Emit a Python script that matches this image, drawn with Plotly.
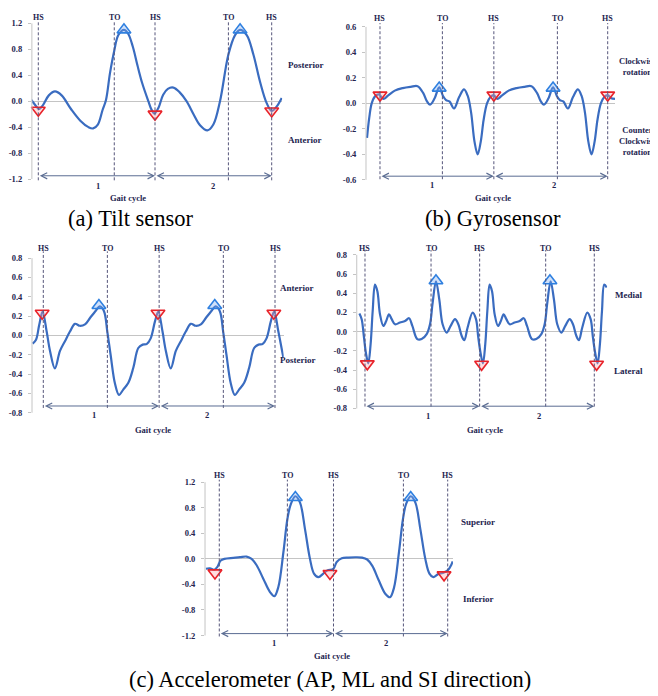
import plotly.graph_objects as go

# The page body adds an 8px margin; the figure is sized to fill the rest of the 658x696 window
OFF = 8
W, H = 658 - OFF, 696 - OFF
SERIF = "Liberation Serif, Times New Roman, serif"
NAVY = "#24244f"
CURVE = "#3a6cc0"
DASH = "#55557a"
GREY = "#c4c4c4"

# ---------------- data (x in % of gait cycle: HS at 0, 100, 200) ----------------
hs_events = [0, 100, 200]

# (a) Tilt sensor
tilt_x = [-6.5, -3, 0.5, 4, 9, 14.3, 20, 28, 36, 43, 47, 51, 55, 58, 61.4, 65, 68.6, 73.4, 77, 81,
          85, 89, 94.3, 97, 99.5, 103, 107, 111, 115.7, 121, 127, 133, 138.6, 144.9, 150, 155.7,
          162.9, 168.6, 172.9, 178.6, 184.3, 190, 195.7, 200, 204.3, 208.6]
tilt_y = [0.03, -0.05, -0.12, -0.06, 0.09, 0.15, 0.09, -0.12, -0.3, -0.4, -0.42, -0.36, -0.14, 0.02, 0.43, 0.77, 1.02, 1.1, 1.04, 0.84,
          0.55, 0.28, 0.0, -0.13, -0.19, -0.1, 0.1, 0.19, 0.21, 0.14, 0.0, -0.2, -0.37, -0.45, -0.36, 0.0,
          0.72, 1.02, 1.1, 1.02, 0.72, 0.3, -0.03, -0.15, -0.08, 0.05]
tilt_hs_x = [0, 100, 200]
tilt_hs_y = [-0.14, -0.2, -0.15]
tilt_pk_x = [73.4, 172.9]
tilt_pk_y = [1.1, 1.1]
tilt_to = [65.1, 162.9]
tilt_ticks = [-1.2, -0.8, -0.4, 0.0, 0.4, 0.8, 1.2]
tilt_ticktext = ["-1.2", "-0.8", "-0.4", "0.0", "0.4", "0.8", "1.2"]

# (b) Gyrosensor
gyro_x = [-11.4, -9.4, -7.3, -4.4, -1, 3, 7, 13, 20, 27, 33, 38, 41, 44, 48, 52, 55.5, 58, 61, 65,
          69.5, 73.8, 77, 80, 83, 85.8, 88.5, 91, 94, 97, 100, 103, 107, 113, 120, 127, 133, 138,
          141, 144, 148, 152, 155.5, 158, 161, 165, 169.5, 173.8, 177, 180, 183, 185.8, 188.5, 191,
          194, 197, 200, 203, 206.4]
gyro_y = [-0.27, -0.11, 0.0, 0.055, 0.07, 0.035, 0.06, 0.1, 0.12, 0.13, 0.135, 0.08, 0.02, -0.01, 0.04, 0.125, 0.055, 0.025, 0.015, -0.04,
          0.05, 0.11, 0.06, -0.07, -0.3, -0.40, -0.3, -0.13, 0.0, 0.05, 0.065, 0.035, 0.06, 0.1, 0.12, 0.13, 0.135, 0.08,
          0.02, -0.01, 0.04, 0.125, 0.055, 0.025, 0.015, -0.04, 0.05, 0.11, 0.06, -0.07, -0.3, -0.40, -0.3, -0.13,
          0.0, 0.05, 0.065, 0.04, 0.035]
gyro_hs_x = [0, 100, 200]
gyro_hs_y = [0.065, 0.065, 0.065]
gyro_pk_x = [52, 152]
gyro_pk_y = [0.12, 0.12]
gyro_to = [54.8, 155.8]
gyro_ticks = [-0.6, -0.4, -0.2, 0.0, 0.2, 0.4, 0.6]
gyro_ticktext = ["-0.6", "-0.4", "-0.2", "0.0", "0.2", "0.4", "0.6"]

# (c) Accelerometer AP
ap_x = [-9.2, -6.3, -3.5, -0.6, 2.9, 5.8, 10, 14.4, 18.7, 23, 27.3, 31.6, 36, 40.3, 44.6, 48.9, 52.4, 55.3,
        58.1, 61.9, 65.3, 69, 73.4, 77.7, 82, 85.8, 89.2, 92.7, 96.4, 99.3, 102.9, 105.8, 110, 114.4,
        118.7, 123, 127.3, 131.6, 136, 140.3, 144.6, 148.9, 152.4, 155.3, 158.1, 161.9, 165.3, 169,
        173.4, 177.7, 182, 185.8, 189.2, 192.7, 196.4, 199.3, 202.9, 207.2]
ap_y = [-0.085, -0.045, 0.11, 0.246, 0.04, -0.16, -0.34, -0.16, -0.06, 0.04, 0.12, 0.10, 0.115, 0.18, 0.246, 0.30, 0.25, 0.035,
        -0.2, -0.5, -0.615, -0.56, -0.49, -0.335, -0.13, -0.095, -0.09, -0.03, 0.145, 0.246, 0.04, -0.16, -0.34, -0.16,
        -0.06, 0.04, 0.12, 0.10, 0.115, 0.18, 0.246, 0.30, 0.25, 0.035, -0.2, -0.5, -0.615, -0.56,
        -0.49, -0.335, -0.13, -0.095, -0.09, -0.03, 0.145, 0.246, 0.04, -0.23]
ap_hs_x = [-1, 99, 199]
ap_hs_y = [0.23, 0.23, 0.23]
ap_pk_x = [48, 148]
ap_pk_y = [0.31, 0.31]
ap_to = [55.3, 155.4]
ap_ticks = [-0.8, -0.6, -0.4, -0.2, 0.0, 0.2, 0.4, 0.6, 0.8]
ap_ticktext = ["-0.8", "-0.6", "-0.4", "-0.2", "0.0", "0.2", "0.4", "0.6", "0.8"]

# (c) Accelerometer ML
ml_x = [-4.9, -2.9, -0.9, 0.9, 2.9, 4.9, 6.7, 8.7, 10.8, 13.1, 16, 18.3, 20.9, 23.3, 26.2, 30.5, 34.9, 38.4,
        41.3, 45.6, 49.4, 53.8, 56.7, 59, 61.9, 64.8, 67.7, 71.2, 74.7, 78.5, 81.4, 84.3, 86.6, 89.5,
        93.9, 96.8, 98.8, 100.9, 102.9, 104.9, 106.7, 108.7, 110.8, 113.1, 116, 118.3, 120.9, 123.3,
        126.2, 130.5, 134.9, 138.4, 141.3, 145.6, 149.4, 153.8, 156.7, 159, 161.9, 164.8, 167.7, 171.2,
        174.7, 178.5, 181.4, 184.3, 186.6, 189.5, 193.9, 196.8, 198.8, 200.9, 202.9, 204.9, 206.7,
        208.7, 210.8]
ml_y = [0.19, 0.13, -0.06, -0.23, -0.33, -0.13, 0.215, 0.49, 0.42, 0.18, 0.06, 0.105, 0.18, 0.13, 0.077, 0.095, 0.11, 0.14,
        0.06, -0.077, -0.077, -0.026, 0.077, 0.3, 0.525, 0.335, 0.077, -0.009, 0.06, 0.13, 0.077, -0.043, -0.088, 0.043,
        0.198, 0.13, -0.06, -0.23, -0.33, -0.13, 0.215, 0.49, 0.42, 0.18, 0.06, 0.105, 0.18, 0.13,
        0.077, 0.095, 0.11, 0.14, 0.06, -0.077, -0.077, -0.026, 0.077, 0.3, 0.525, 0.335, 0.077, -0.009,
        0.06, 0.13, 0.077, -0.043, -0.088, 0.043, 0.198, 0.13, -0.06, -0.23, -0.33, -0.13, 0.215,
        0.49, 0.46]
ml_hs_x = [2, 101.7, 202]
ml_hs_y = [-0.335, -0.34, -0.34]
ml_pk_x = [61.9, 161.3]
ml_pk_y = [0.53, 0.53]
ml_to = [57.6, 157.6]
ml_ticks = ap_ticks
ml_ticktext = ap_ticktext

# (c) Accelerometer SI
si_x = [-11.7, -8.2, -4.4, -1.5, 1, 4.5, 12.3, 18.1, 23.9, 28.3, 32.7, 38.5, 44.4, 48.2, 51.7, 56.1, 59.6,
        62.5, 66.6, 70.7, 75, 79.4, 82.9, 86.7, 91.1, 94.6, 99.9, 102.8, 107.2, 113, 119, 125, 129.5,
        134, 139.5, 145.5, 149.5, 153, 157.3, 160.8, 163.6, 167.6, 171.7, 176, 180.4, 184, 187.4,
        191.5, 195.6, 200, 203.5, 204.4]
si_y = [-0.155, -0.15, -0.17, -0.12, -0.03, 0.0, 0.016, 0.026, 0.036, 0.0, -0.1, -0.31, -0.52, -0.585, -0.44, 0.1, 0.62,
        0.85, 0.98, 0.88, 0.47, 0.0, -0.23, -0.285, -0.23, -0.18, -0.155, -0.05, 0.01, 0.02, 0.025, 0.02, -0.01,
        -0.11, -0.33, -0.55, -0.6, -0.45, 0.1, 0.62, 0.86, 0.98, 0.88, 0.47, 0.0, -0.23, -0.285,
        -0.24, -0.22, -0.18, -0.08, -0.04]
si_hs_x = [-3.8, 96.9, 196.8]
si_hs_y = [-0.22, -0.23, -0.25]
si_pk_x = [66.6, 167.6]
si_pk_y = [0.96, 0.96]
si_to = [59.6, 161.2]
si_ticks = tilt_ticks
si_ticktext = tilt_ticktext

# ---------------- layout parameters (window-pixel geometry per panel) ----------------
panels = [
    dict(x=tilt_x, y=tilt_y, hsx=tilt_hs_x, hsy=tilt_hs_y, pkx=tilt_pk_x, pky=tilt_pk_y, to=tilt_to,
         ticks=tilt_ticks, ticktext=tilt_ticktext,
         hs0=38.3, hs200=271.7, zero=100.0, ppu=65.42, xr=[-5.5, 209], yr=[-1.24, 1.25],
         dash=[-1.22, 1.23], lab_y=1.29, arrow_y=-1.15, num_y=-1.30, num_x=[51, 150]),
    dict(x=gyro_x, y=gyro_y, hsx=gyro_hs_x, hsy=gyro_hs_y, pkx=gyro_pk_x, pky=gyro_pk_y, to=gyro_to,
         ticks=gyro_ticks, ticktext=gyro_ticktext,
         hs0=380.0, hs200=607.7, zero=102.2, ppu=128.6, xr=[-12.3, 206.5], yr=[-0.61, 0.64],
         dash=[-0.595, 0.63], lab_y=0.665, arrow_y=-0.571, num_y=-0.644, num_x=[45.4, 152.9]),
    dict(x=ap_x, y=ap_y, hsx=ap_hs_x, hsy=ap_hs_y, pkx=ap_pk_x, pky=ap_pk_y, to=ap_to,
         ticks=ap_ticks, ticktext=ap_ticktext,
         hs0=43.3, hs200=275.0, zero=336.3, ppu=97.5, xr=[-9.75, 207.5], yr=[-0.81, 0.88],
         dash=[-0.75, 0.87], lab_y=0.9, arrow_y=-0.73, num_y=-0.825, num_x=[44, 141]),
    dict(x=ml_x, y=ml_y, hsx=ml_hs_x, hsy=ml_hs_y, pkx=ml_pk_x, pky=ml_pk_y, to=ml_to,
         ticks=ml_ticks, ticktext=ml_ticktext,
         hs0=365.0, hs200=594.3, zero=332.5, ppu=96.87, xr=[-7.2, 211.2], yr=[-0.81, 0.86],
         dash=[-0.78, 0.85], lab_y=0.87, arrow_y=-0.776, num_y=-0.875, num_x=[54.7, 152]),
    dict(x=si_x, y=si_y, hsx=si_hs_x, hsy=si_hs_y, pkx=si_pk_x, pky=si_pk_y, to=si_to,
         ticks=si_ticks, ticktext=si_ticktext,
         hs0=219.3, hs200=447.7, zero=561.7, ppu=64.44, xr=[-12.5, 204.6], yr=[-1.23, 1.25],
         dash=[-1.215, 1.24], lab_y=1.30, arrow_y=-1.17, num_y=-1.32, num_x=[48.2, 146]),
]

# free text labels: (text, x_px, y_px, size)
side_labels = [
    ("Posterior", 305, 63, 9), ("Anterior", 305, 139, 9),
    ("Clockwise<br>rotation", 637, 64.5, 8.5), ("Counter<br>Clockwise<br>rotation", 637, 140, 8.5),
    ("Anterior", 297, 288, 9), ("Posterior", 297, 361, 9),
    ("Medial", 628, 296, 9), ("Lateral", 628, 372, 9),
    ("Superior", 478, 525, 9), ("Inferior", 478, 602, 9),
]
gait_labels = [(128, 197.5), (493, 197.5), (153, 432), (485, 432), (332, 660)]
captions = [("(a) Tilt sensor", 131, 218), ("(b) Gyrosensor", 493, 218),
            ("(c) Accelerometer (AP, ML and SI direction)", 330, 683)]


def px(xp):
    return (xp - OFF) / W


def py(yp):
    return 1 - (yp - OFF) / H


def bold(size):
    return dict(family=SERIF, size=size, color=NAVY, weight="bold")


def text_ann(x, y, txt, font, xref="paper"):
    return dict(x=x, y=y, xref=xref, yref="paper", text=txt, showarrow=False, font=font,
                xanchor="center", yanchor="middle")


fig = go.Figure()
shapes = []
annotations = []
layout_axes = {}

for i, p in enumerate(panels, start=1):
    sfx = "" if i == 1 else str(i)
    xa, ya = "x" + sfx, "y" + sfx
    s = (p["hs200"] - p["hs0"]) / 200.0
    xdom = [px(p["hs0"] + p["xr"][0] * s), px(p["hs0"] + p["xr"][1] * s)]
    ydom = [py(p["zero"] - p["yr"][0] * p["ppu"]), py(p["zero"] - p["yr"][1] * p["ppu"])]

    def ypaper(v, p=p):
        return py(p["zero"] - v * p["ppu"])

    layout_axes["xaxis" + sfx] = dict(domain=xdom, range=p["xr"], anchor=ya, visible=False,
                                      showgrid=False, zeroline=False)
    layout_axes["yaxis" + sfx] = dict(domain=ydom, range=p["yr"], anchor=xa, showgrid=False,
                                      zeroline=True, zerolinecolor=GREY, zerolinewidth=1.3,
                                      showline=False, ticks="outside", ticklen=3, tickcolor=GREY,
                                      tickvals=p["ticks"], ticktext=p["ticktext"],
                                      ticklabelstandoff=4, tickfont=bold(8.5))

    # y-axis line
    shapes.append(dict(type="line", xref=xa + " domain", yref=ya, x0=0, x1=0,
                       y0=min(p["ticks"]), y1=max(p["ticks"]), line=dict(color=GREY, width=1)))

    # dashed event lines
    for xe in hs_events + p["to"]:
        shapes.append(dict(type="line", xref=xa, yref=ya, x0=xe, x1=xe, y0=p["dash"][0], y1=p["dash"][1],
                           line=dict(color=DASH, width=1, dash="3px,2px")))

    # event labels
    for xe in hs_events:
        annotations.append(text_ann(xe, ypaper(p["lab_y"]), "HS", bold(8), xref=xa))
    for xe in p["to"]:
        annotations.append(text_ann(xe, ypaper(p["lab_y"]), "TO", bold(8), xref=xa))

    # gait cycle arrows
    for a, b in [(0, 100), (100, 200)]:
        annotations.append(dict(x=b, y=p["arrow_y"], ax=a, ay=p["arrow_y"], xref=xa, yref=ya,
                                axref=xa, ayref=ya, text="", showarrow=True, arrowside="end+start",
                                arrowhead=5, startarrowhead=5, arrowsize=1.2, startarrowsize=1.2,
                                arrowwidth=1, arrowcolor="#5a6c92"))
    for n, xn in zip(["1", "2"], p["num_x"]):
        annotations.append(text_ann(xn, ypaper(p["num_y"]), n, bold(8.5), xref=xa))

    # curve
    fig.add_trace(go.Scatter(x=p["x"], y=p["y"], xaxis=xa, yaxis=ya, mode="lines",
                             line=dict(color=CURVE, width=2.2, shape="spline", smoothing=1.0),
                             hoverinfo="skip", showlegend=False))
    # HS markers (red) and peak markers (blue)
    fig.add_trace(go.Scatter(x=p["hsx"], y=p["hsy"], xaxis=xa, yaxis=ya, mode="markers",
                             marker=dict(symbol="triangle-down", size=12, color="rgba(255,160,165,0.35)",
                                         line=dict(color="#e8232a", width=1.6)),
                             hoverinfo="skip", showlegend=False, cliponaxis=False))
    fig.add_trace(go.Scatter(x=p["pkx"], y=p["pky"], xaxis=xa, yaxis=ya, mode="markers",
                             marker=dict(symbol="triangle-up", size=12, color="rgba(120,170,240,0.35)",
                                         line=dict(color="#2f80e0", width=1.6)),
                             hoverinfo="skip", showlegend=False, cliponaxis=False))

for txt, xp, yp, sz in side_labels:
    annotations.append(text_ann(px(xp), py(yp), txt, bold(sz)))
for xp, yp in gait_labels:
    annotations.append(text_ann(px(xp), py(yp), "Gait cycle", bold(8.5)))
for txt, xp, yp in captions:
    annotations.append(text_ann(px(xp), py(yp), txt, dict(family=SERIF, size=22.5, color="#000000")))

fig.update_layout(width=W, height=H, margin=dict(l=0, r=0, t=0, b=0),
                  paper_bgcolor="white", plot_bgcolor="white", showlegend=False,
                  shapes=shapes, annotations=annotations, **layout_axes)

fig.write_html("out.html")
